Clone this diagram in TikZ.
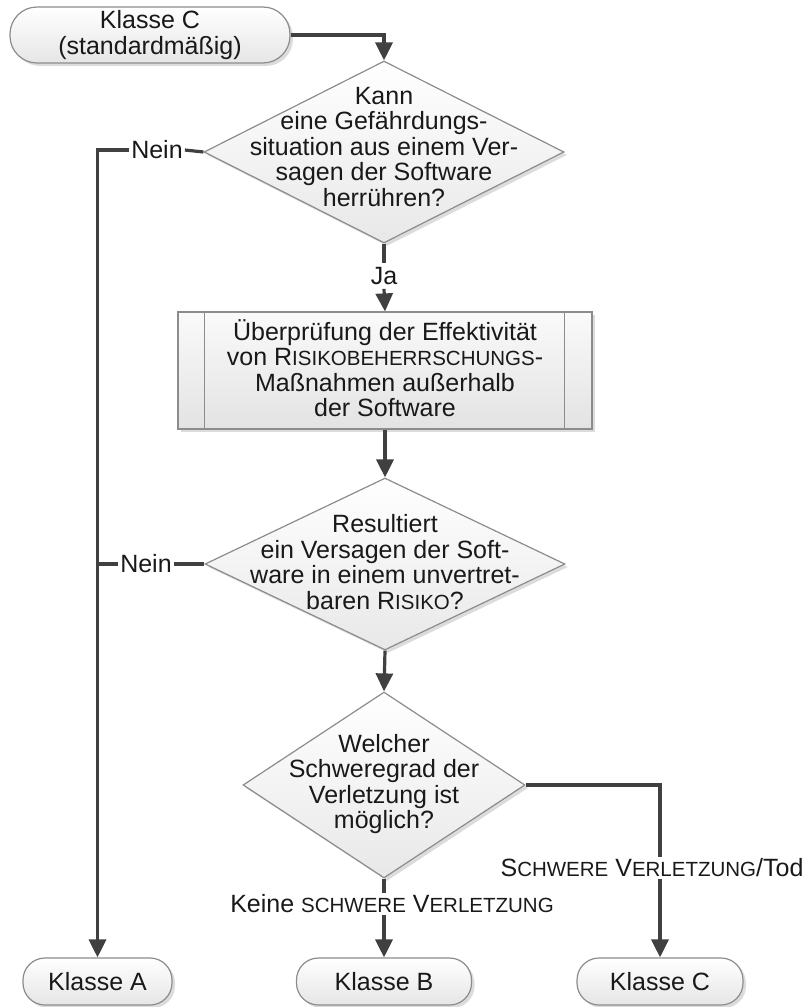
\documentclass[tikz,border=0pt]{standalone}
\usepackage{fontspec}
\setmainfont{Liberation Sans}
\usetikzlibrary{arrows.meta,shapes.geometric,shadows}
\newcommand\ksc[1]{{\fontsize{20.5}{20.5}\selectfont #1}}
\begin{document}
\begin{tikzpicture}[x=1pt,y=-1pt,
  base/.style={font=\fontsize{25}{25.5}\selectfont, text=black!90},
  shad/.style={drop shadow={shadow xshift=3pt,shadow yshift=-3pt,fill=black!30,opacity=.45}},
  term/.style={base, shad, draw=black!45, line width=1.2pt, rounded corners=22pt, top color=white, bottom color=black!10, inner sep=0pt, align=center},
  dia/.style={diamond, shad, draw=black!45, line width=1.2pt, top color=white, bottom color=black!9, inner sep=0pt},
  proc/.style={rectangle, shad, draw=black!45, line width=1.2pt, top color=black!2, bottom color=black!11, inner sep=0pt},
  txt/.style={base, align=center, inner sep=0pt},
  lbl/.style={base, inner sep=2pt},
  conn/.style={draw=black!75, line width=3.2pt},
  arr/.style={conn, -{Triangle[length=18pt,width=17pt]}},
  inner/.style={draw=black!45, line width=1.2pt}
]
\useasboundingbox (0,0) rectangle (811,1007);
% nodes
\node[term, minimum width=280pt, minimum height=56pt, rounded corners=27pt] (start) at (150,35) {Klasse C\\(standardmäßig)};
\node[dia, minimum width=360pt, minimum height=182pt] (d1) at (384,152) {};
\node[txt] (t1) at (384,147) {Kann\\eine Gefährdungs-\\situation aus einem Ver-\\sagen der Software\\herrühren?};
\node[lbl, inner sep=4pt] (ja) at (384,276) {Ja};
\node[proc, minimum width=414pt, minimum height=117pt] (box) at (385,370.5) {};
\draw[inner] ([xshift=27pt]box.north west) -- ([xshift=27pt]box.south west);
\draw[inner] ([xshift=-28pt]box.north east) -- ([xshift=-28pt]box.south east);
\node[txt] (t2) at (385,368) {Überprüfung der Effektivität\\von R\ksc{ISIKOBEHERRSCHUNGS}-\\Maßnahmen außerhalb\\der Software};
\node[dia, minimum width=360pt, minimum height=172pt] (d2) at (385,564) {};
\node[txt] (t3) at (385,562) {Resultiert\\ein Versagen der Soft-\\ware in einem unvertret-\\baren R\ksc{ISIKO}?};
\node[dia, minimum width=282pt, minimum height=186pt] (d3) at (384,785) {};
\node[txt] (t4) at (384,784) {Welcher\\Schweregrad der\\Verletzung ist\\möglich?};
\node[lbl] (n1) at (157,150) {Nein};
\node[lbl] (n2) at (146,564) {Nein};
\node[lbl] (sv) at (652,868) {S\ksc{CHWERE} V\ksc{ERLETZUNG}/Tod};
\node[lbl] (kv) at (392,904) {Keine \ksc{SCHWERE} V\ksc{ERLETZUNG}};
\node[term, minimum width=149pt, minimum height=47pt] (A) at (97.5,981.5) {Klasse A};
\node[term, minimum width=175pt, minimum height=47pt] (B) at (384,981.5) {Klasse B};
\node[term, minimum width=166pt, minimum height=47pt] (C) at (660,981.5) {Klasse C};
% connectors
\draw[arr] (start.east) -| (d1.north);
\draw[conn] (d1.west) -- (n1.east);
\draw[arr] (n1.west) -| (A.north);
\draw[conn] (d2.west) -- (n2.east);
\draw[conn] (n2.west) -- (n2.west -| A.north);
\draw[conn] (d1.south) -- (ja.north);
\draw[arr] (ja.south) -- (box.north);
\draw[arr] (box.south) -- (d2.north);
\draw[arr] (d2.south) -- (d3.north);
\draw[conn] (d3.east) -| (C.north |- sv.north);
\draw[arr] (C.north |- sv.south) -- (C.north);
\draw[conn] (d3.south) -- (d3.south |- kv.north);
\draw[arr] (B.north |- kv.south) -- (B.north);
\end{tikzpicture}
\end{document}
